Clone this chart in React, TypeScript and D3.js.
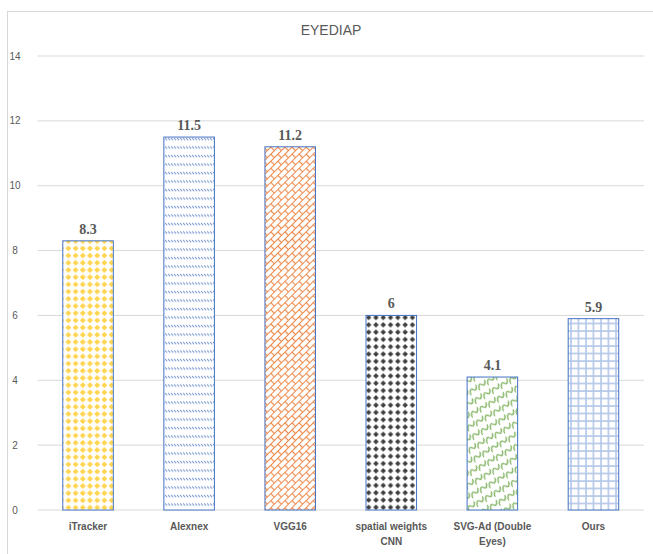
import React from "react";
import * as d3 from "d3";

const categories = ["iTracker", "Alexnex", "VGG16", "spatial weights CNN", "SVG-Ad (Double Eyes)", "Ours"];
const categoryLines = [["iTracker"], ["Alexnex"], ["VGG16"], ["spatial weights", "CNN"], ["SVG-Ad (Double", "Eyes)"], ["Ours"]];
const values = [8.3, 11.5, 11.2, 6, 4.1, 5.9];
const valueLabels = ["8.3", "11.5", "11.2", "6", "4.1", "5.9"];
const yTicks = [0, 2, 4, 6, 8, 10, 12, 14];
const patternIds = ["pDiamondY", "pWaveB", "pBrickO", "pDotG", "pScaleG", "pGridB"];

const W = 653, H = 554;
const left = 37.5, right = 644, top = 56, bottom = 510;

export default function App() {
  const x = d3.scaleBand<string>().domain(categories).range([left, right]).paddingInner(0.5).paddingOuter(0.25);
  const y = d3.scaleLinear().domain([0, 14]).range([bottom, top]);
  const txt = "#595959";
  return (
    <svg width={W} height={H} style={{ position: "fixed", left: 0, top: 0, background: "#fff" }}>
      <defs>
        <pattern id="pDiamondY" width={7.2} height={7.2} patternUnits="userSpaceOnUse">
          <rect width={7.2} height={7.2} fill="#fff" />
          <path d="M3.6,0.6 L6.6,3.6 L3.6,6.6 L0.6,3.6 Z" fill="#FFD54F" />
        </pattern>
        <pattern id="pWaveB" width={3} height={8.5} patternUnits="userSpaceOnUse">
          <rect width={3} height={8.5} fill="#fff" />
          <path d="M0,2 L2.2,4.2" stroke="#6F8FD0" strokeWidth={1} />
        </pattern>
        <pattern id="pBrickO" width={10} height={10} patternUnits="userSpaceOnUse" patternTransform="rotate(-45)">
          <rect width={10} height={10} fill="#fff" />
          <path d="M0,0.5 H10 M0,5.5 H10 M2.5,0.5 V5.5 M7.5,5.5 V10.5" stroke="#EE8A4A" strokeWidth={1.2} fill="none" />
        </pattern>
        <pattern id="pDotG" width={7.3} height={7.3} patternUnits="userSpaceOnUse">
          <rect width={7.3} height={7.3} fill="#fff" />
          <path d="M3.65,0.9 L6.4,3.65 L3.65,6.4 L0.9,3.65 Z" fill="#404040" />
        </pattern>
        <pattern id="pScaleG" width={10} height={10} patternUnits="userSpaceOnUse" patternTransform="rotate(-30)">
          <rect width={10} height={10} fill="#fff" />
          <path d="M0,8 Q2.5,0 5,4 Q7.5,8 10,1" stroke="#6AA544" strokeWidth={1.3} fill="none" opacity={0.9} />
        </pattern>
        <pattern id="pGridB" width={7.5} height={7.5} patternUnits="userSpaceOnUse">
          <rect width={7.5} height={7.5} fill="#fff" />
          <path d="M1,0 V7.5 M0,1 H7.5" stroke="#B4C7E7" strokeWidth={1.6} />
        </pattern>
      </defs>
      <rect x={7.5} y={11.5} width={700} height={600} fill="#fff" stroke="#D9D9D9" />
      <text x={331} y={35} textAnchor="middle" fontFamily="Liberation Sans, Arial" fontSize={14} fill={txt}>EYEDIAP</text>
      {yTicks.map(t => (
        <g key={t}>
          <line x1={left} x2={right} y1={y(t)} y2={y(t)} stroke="#D9D9D9" />
          <text x={15} y={y(t) + 3.5} textAnchor="middle" fontFamily="Liberation Sans, Arial" fontSize={10} fill={txt}>{t}</text>
        </g>
      ))}
      {categories.map((c, i) => {
        const bx = x(c)!;
        const bw = x.bandwidth();
        return (
          <g key={c}>
            <rect x={bx} y={y(values[i])} width={bw} height={y(0) - y(values[i])} fill={`url(#${patternIds[i]})`} stroke="#4472C4" strokeWidth={1} />
            <text x={bx + bw / 2} y={y(values[i]) - 7} textAnchor="middle" fontFamily="Liberation Serif, serif" fontWeight="bold" fontSize={14} fill={txt}>{valueLabels[i]}</text>
            {categoryLines[i].map((ln, j) => (
              <text key={j} x={bx + bw / 2} y={530 + j * 15} textAnchor="middle" fontFamily="Liberation Sans, Arial" fontWeight="bold" fontSize={10} fill={txt}>{ln}</text>
            ))}
          </g>
        );
      })}
    </svg>
  );
}
